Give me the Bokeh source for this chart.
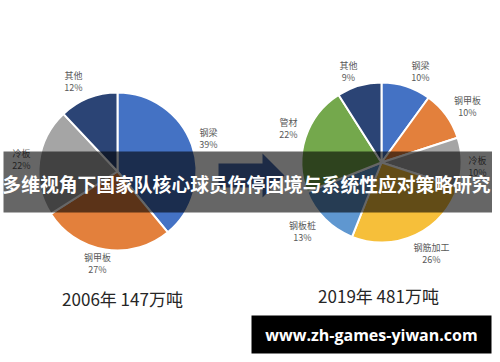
import math
from bokeh.plotting import figure
from bokeh.models import ColumnDataSource
from bokeh.core.properties import value
from bokeh.embed import file_html
from bokeh.resources import INLINE

# ---- data ----
left_title = "2006年 147万吨"
left_cats = ["钢梁", "钢甲板", "冷板", "其他"]
left_vals = [39, 27, 22, 12]

right_title = "2019年 481万吨"
right_cats = ["钢梁", "钢甲板", "冷板", "钢筋加工", "钢板桩", "管材", "其他"]
right_vals = [10, 10, 10, 26, 13, 22, 9]

banner_title = "多维视角下国家队核心球员伤停困境与系统性应对策略研究"
site = "www.zh-games-yiwan.com"

# ---- styles / layout ----
colors = {"钢梁": "#4472C4", "钢甲板": "#E3803C", "冷板": "#A5A5A5", "其他": "#2B4475",
          "钢筋加工": "#F6BF3A", "钢板桩": "#5F97D0", "管材": "#74A84C"}
H = 362
def Y(y):
    return H - y

left_label_pos = {"钢梁": (208, 132), "钢甲板": (97, 257), "冷板": (21, 153), "其他": (73, 75)}
right_label_pos = {"钢梁": (420, 65), "钢甲板": (467, 100), "冷板": (477, 160), "钢筋加工": (431, 247),
                   "钢板桩": (302, 225), "管材": (288, 122), "其他": (348, 65)}

p = figure(width=492, height=354, x_range=(0, 492), y_range=(8, 362),
           output_backend="svg", toolbar_location=None, min_border=0)
p.axis.visible = False
p.grid.visible = False
p.outline_line_color = None
p.background_fill_color = "white"
p.border_fill_color = "white"

FONT = value("Noto Sans CJK SC")

def pie(cx, cy, r, cats, vals, label_pos):
    total = float(sum(vals))
    starts, ends = [], []
    cum = 0.0
    for v in vals:
        a0 = math.pi / 2 - 2 * math.pi * cum / total
        cum += v
        a1 = math.pi / 2 - 2 * math.pi * cum / total
        starts.append(a1)
        ends.append(a0)
    src = ColumnDataSource(dict(x=[cx] * len(vals), y=[Y(cy)] * len(vals),
                                start=starts, end=ends,
                                color=[colors[c] for c in cats]))
    p.wedge(x="x", y="y", radius=r, radius_units="screen", start_angle="start",
            end_angle="end", direction="anticlock", fill_color="color",
            line_color="white", line_width=2, source=src)
    lx = [label_pos[c][0] for c in cats]
    ly1 = [Y(label_pos[c][1]) for c in cats]
    ly2 = [Y(label_pos[c][1] + 11.5) for c in cats]
    p.text(x=lx, y=ly1, text=cats, text_font=FONT, text_font_size="9px",
           text_color="#595959", text_align="center", text_baseline="middle")
    p.text(x=lx, y=ly2, text=[f"{v}%" for v in vals], text_font=FONT, text_font_size="9px",
           text_color="#595959", text_align="center", text_baseline="middle")

pie(117, 171, 79, left_cats, left_vals, left_label_pos)
pie(381, 162, 80, right_cats, right_vals, right_label_pos)

p.text(x=[122], y=[Y(298)], text=[left_title], text_font=FONT, text_font_size="17px",
       text_color="#262626", text_align="center", text_baseline="middle")
p.text(x=[378], y=[Y(295)], text=[right_title], text_font=FONT, text_font_size="17px",
       text_color="#262626", text_align="center", text_baseline="middle")

# arrow
ax = [218, 262, 262, 284, 262, 262, 218]
ay = [163, 163, 153, 175, 197, 187, 187]
p.patch(x=ax, y=[Y(v) for v in ay], fill_color="#4A6DB0", line_color=None)

# title banner
p.quad(left=[3], right=[500], top=[Y(151)], bottom=[Y(212)], fill_color="black",
       fill_alpha=0.6, line_color=None)
p.text(x=[246], y=[Y(183)], text=[banner_title], text_font=FONT, text_font_size="18.8px",
       text_font_style="bold", text_color="white", text_align="center", text_baseline="middle")

# bottom banner
p.quad(left=[251], right=[491], top=[Y(315)], bottom=[Y(353)], fill_color="black",
       line_color=None)
p.text(x=[371], y=[Y(334)], text=[site], text_font=value("Open Sans"), text_font_size="16px",
       text_font_style="bold", text_color="white", text_align="center", text_baseline="middle")

open("out.html", "w").write(file_html(p, INLINE))
